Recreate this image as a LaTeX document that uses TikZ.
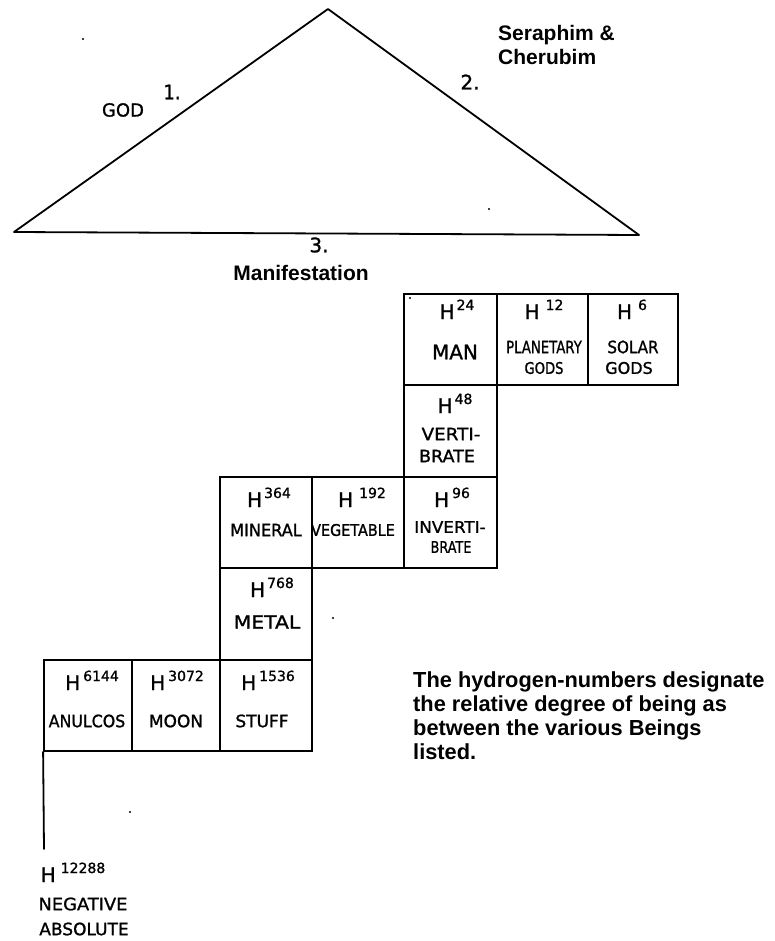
\documentclass[tikz,border=0pt]{standalone}
\usepackage{fontspec}
\usepackage{graphicx}
\setmainfont{Liberation Sans}
\newfontfamily\hand[FakeBold=1.2]{DejaVu Sans}
\usetikzlibrary{fit}
\newcommand\hw[3]{{\hand\fontsize{#1}{#1}\selectfont\scalebox{#2}[1]{#3}}}
\newcommand\Hn[2]{{\hand\fontsize{20}{20}\selectfont H\kern#1pt\raisebox{9pt}{\fontsize{14}{14}\selectfont #2}}}
\tikzset{
  cell/.style={draw=black, line width=1.8pt, inner sep=0pt},
  edge/.style={draw=black, line width=1.8pt, line join=round, line cap=round},
  txt/.style={inner sep=0pt, outer sep=0pt, anchor=center},
  hl/.style={inner sep=0pt, outer sep=0pt, anchor=base},
  bold/.style={inner sep=0pt, font=\bfseries\fontsize{21}{24}\selectfont, align=left},
  speck/.style={fill=black, draw=none}
}
\begin{document}
\begin{tikzpicture}[x=1pt, y=-1pt]
\useasboundingbox (0,0) rectangle (775,941);
% triangle
\coordinate (apex) at (328,9);
\coordinate (bl) at (14,232);
\coordinate (br) at (639,235);
\draw[edge] (apex) -- (br) -- (bl) -- cycle;
\node[txt] (god) at (123,110) {\hw{18}{1}{GOD}};
\node[txt] (one) at (172,92) {\hw{20}{0.9}{1.}};
\node[txt] (two) at (470,82) {\hw{20}{1}{2.}};
\node[txt] (three) at (319,245) {\hw{20}{1}{3.}};
\node[bold, anchor=west] (seraph) at (498,45) {Seraphim \&\\Cherubim};
\node[bold, anchor=center] (manif) at (301,273) {Manifestation};
% cells
\node[cell, fit={(404,294) (497,385)}] (man) {};
\node[cell, fit={(497,294) (588,385)}] (plan) {};
\node[cell, fit={(588,294) (678,385)}] (solar) {};
\node[cell, fit={(404,385) (497,477)}] (vert) {};
\node[cell, fit={(220,477) (312,568)}] (mineral) {};
\node[cell, fit={(312,477) (404,568)}] (veg) {};
\node[cell, fit={(404,477) (497,568)}] (invert) {};
\node[cell, fit={(220,568) (312,660)}] (metal) {};
\node[cell, fit={(44,660) (132,751)}] (anul) {};
\node[cell, fit={(132,660) (220,751)}] (moon) {};
\node[cell, fit={(220,660) (312,751)}] (stuff) {};
\coordinate (negend) at (44,849);
\draw[edge] (anul.south west) -- (negend);
% cell texts
\node[hl] (h24) at (457,319) {\Hn{2}{24}};
\node[txt] (tman) at (455,352) {\hw{20}{1}{MAN}};
\node[hl] (h12) at (544,319) {\Hn{6}{12}};
\node[txt] (tplan) at (544,347) {\hw{17}{0.78}{PLANETARY}};
\node[txt] (tgods1) at (544,368) {\hw{16}{0.82}{GODS}};
\node[hl] (h6) at (632,319) {\Hn{6}{6}};
\node[txt] (tsolar) at (633,347) {\hw{17}{0.89}{SOLAR}};
\node[txt] (tgods2) at (629,368) {\hw{16}{1}{GODS}};
\node[hl] (h48) at (455,413) {\Hn{2}{48}};
\node[txt] (tverti) at (451,434) {\hw{17}{1.08}{VERTI-}};
\node[txt] (tbrate1) at (447,456) {\hw{17}{1.03}{BRATE}};
\node[hl] (h364) at (269,507) {\Hn{2}{364}};
\node[txt] (tmin) at (266,530) {\hw{17}{0.95}{MINERAL}};
\node[hl] (h192) at (362,507) {\Hn{6}{192}};
\node[txt] (tveg) at (353,530) {\hw{16}{0.9}{VEGETABLE}};
\node[hl] (h96) at (452,507) {\Hn{3}{96}};
\node[txt] (tinv) at (450,527) {\hw{16}{1.05}{INVERTI-}};
\node[txt] (tbrate2) at (451,547) {\hw{16}{0.8}{BRATE}};
\node[hl] (h768) at (272,597) {\Hn{2}{768}};
\node[txt] (tmetal) at (267,622) {\hw{18}{1.13}{METAL}};
\node[hl] (h6144) at (92,690) {\Hn{3}{6144}};
\node[txt] (tanul) at (87,721) {\hw{17}{0.93}{ANULCOS}};
\node[hl] (h3072) at (177,690) {\Hn{3}{3072}};
\node[txt] (tmoon) at (176,721) {\hw{17}{1}{MOON}};
\node[hl] (h1536) at (268,690) {\Hn{3}{1536}};
\node[txt] (tstuff) at (262,721) {\hw{17}{1}{STUFF}};
\node[hl] (h12288) at (73,882) {\Hn{5}{12288}};
\node[txt] (tneg) at (83,904) {\hw{17}{1.05}{NEGATIVE}};
\node[txt] (tabs) at (84,929) {\hw{17}{1}{ABSOLUTE}};
% note
\node[bold, anchor=west, font=\bfseries\fontsize{21.8}{24}\selectfont] (note) at (413,716) {The hydrogen-numbers designate\\the relative degree of being as\\between the various Beings\\listed.};
% specks
\fill[speck] (83,39) circle (1.2);
\fill[speck] (489,209) circle (1.2);
\fill[speck] (410,298) circle (1.2);
\fill[speck] (333,618) circle (1.2);
\fill[speck] (130,812) circle (1.2);
\end{tikzpicture}
\end{document}
